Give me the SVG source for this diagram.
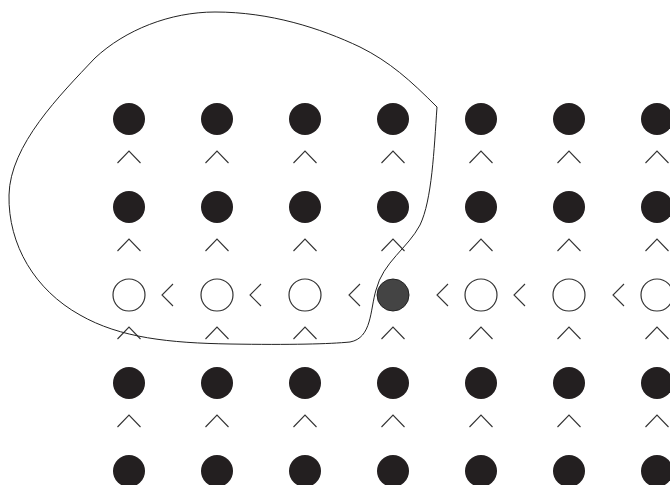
<svg xmlns="http://www.w3.org/2000/svg" width="670" height="485" viewBox="0 0 670 485">
<defs>
<style>
.f{fill:#231f20;stroke:none}
.o{fill:#fff;stroke:#333;stroke-width:1.2}
.g{fill:#444;stroke:#222;stroke-width:1}
.c{fill:none;stroke:#333;stroke-width:1.1}
.b{fill:none;stroke:#222;stroke-width:1}
</style>
<polyline id="up" class="c" points="-11.5,12 0,0 11.5,12"/>
<polyline id="lt" class="c" points="11,-11 0,0 11,11"/>
</defs>
<rect width="670" height="485" fill="#fff"/>
<g id="nodes">
<g id="r1c1"><circle class="f" cx="129" cy="119" r="16"/></g>
<g id="r1c2"><circle class="f" cx="217" cy="119" r="16"/></g>
<g id="r1c3"><circle class="f" cx="305" cy="119" r="16"/></g>
<g id="r1c4"><circle class="f" cx="393" cy="119" r="16"/></g>
<g id="r1c5"><circle class="f" cx="481" cy="119" r="16"/></g>
<g id="r1c6"><circle class="f" cx="569" cy="119" r="16"/></g>
<g id="r1c7"><circle class="f" cx="657" cy="119" r="16"/></g>
<g id="r2c1"><circle class="f" cx="129" cy="207" r="16"/></g>
<g id="r2c2"><circle class="f" cx="217" cy="207" r="16"/></g>
<g id="r2c3"><circle class="f" cx="305" cy="207" r="16"/></g>
<g id="r2c4"><circle class="f" cx="393" cy="207" r="16"/></g>
<g id="r2c5"><circle class="f" cx="481" cy="207" r="16"/></g>
<g id="r2c6"><circle class="f" cx="569" cy="207" r="16"/></g>
<g id="r2c7"><circle class="f" cx="657" cy="207" r="16"/></g>
<g id="r3c1"><circle class="o" cx="129" cy="295" r="16"/></g>
<g id="r3c2"><circle class="o" cx="217" cy="295" r="16"/></g>
<g id="r3c3"><circle class="o" cx="305" cy="295" r="16"/></g>
<g id="r3c4"><circle class="g" cx="393" cy="295" r="16"/></g>
<g id="r3c5"><circle class="o" cx="481" cy="295" r="16"/></g>
<g id="r3c6"><circle class="o" cx="569" cy="295" r="16"/></g>
<g id="r3c7"><circle class="o" cx="657" cy="295" r="16"/></g>
<g id="r4c1"><circle class="f" cx="129" cy="383" r="16"/></g>
<g id="r4c2"><circle class="f" cx="217" cy="383" r="16"/></g>
<g id="r4c3"><circle class="f" cx="305" cy="383" r="16"/></g>
<g id="r4c4"><circle class="f" cx="393" cy="383" r="16"/></g>
<g id="r4c5"><circle class="f" cx="481" cy="383" r="16"/></g>
<g id="r4c6"><circle class="f" cx="569" cy="383" r="16"/></g>
<g id="r4c7"><circle class="f" cx="657" cy="383" r="16"/></g>
<g id="r5c1"><circle class="f" cx="129" cy="471" r="16"/></g>
<g id="r5c2"><circle class="f" cx="217" cy="471" r="16"/></g>
<g id="r5c3"><circle class="f" cx="305" cy="471" r="16"/></g>
<g id="r5c4"><circle class="f" cx="393" cy="471" r="16"/></g>
<g id="r5c5"><circle class="f" cx="481" cy="471" r="16"/></g>
<g id="r5c6"><circle class="f" cx="569" cy="471" r="16"/></g>
<g id="r5c7"><circle class="f" cx="657" cy="471" r="16"/></g>
</g>
<g id="connectors">
<use href="#up" x="129" y="151"/><use href="#up" x="217" y="151"/><use href="#up" x="305" y="151"/><use href="#up" x="393" y="151"/><use href="#up" x="481" y="151"/><use href="#up" x="569" y="151"/><use href="#up" x="657" y="151"/>
<use href="#up" x="129" y="239"/><use href="#up" x="217" y="239"/><use href="#up" x="305" y="239"/><use href="#up" x="393" y="239"/><use href="#up" x="481" y="239"/><use href="#up" x="569" y="239"/><use href="#up" x="657" y="239"/>
<use href="#up" x="129" y="327"/><use href="#up" x="217" y="327"/><use href="#up" x="305" y="327"/><use href="#up" x="393" y="327"/><use href="#up" x="481" y="327"/><use href="#up" x="569" y="327"/><use href="#up" x="657" y="327"/>
<use href="#up" x="129" y="415"/><use href="#up" x="217" y="415"/><use href="#up" x="305" y="415"/><use href="#up" x="393" y="415"/><use href="#up" x="481" y="415"/><use href="#up" x="569" y="415"/><use href="#up" x="657" y="415"/>
<use href="#lt" x="162" y="295"/><use href="#lt" x="250" y="295"/><use href="#lt" x="349" y="295"/><use href="#lt" x="437" y="295"/><use href="#lt" x="514" y="295"/><use href="#lt" x="613" y="295"/>
</g>
<path id="region" class="b" d="M437,107 C410,80 390,62 360,47 C320,28 270,12 215,12 C170,12 125,30 95,58 C60,95 10,145 9,195 C8,245 35,290 80,315 C120,338 170,343 230,344 C290,345 330,344 350,342 C372,338 370,310 376,290 C383,262 408,248 420,225 C432,200 434,150 437,107 Z"/>
</svg>
